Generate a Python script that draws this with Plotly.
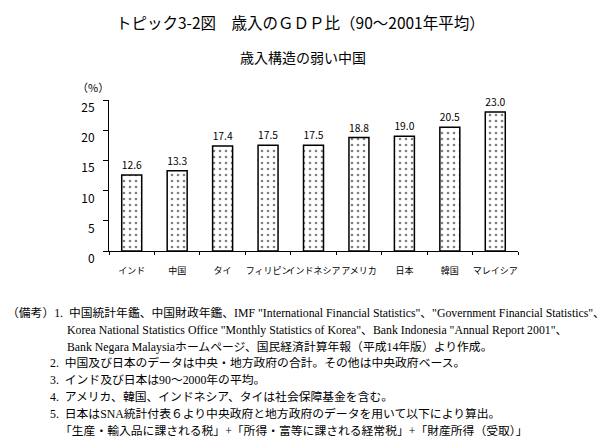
import plotly.graph_objects as go

categories = ["インド", "中国", "タイ", "フィリピン", "インドネシア", "アメリカ", "日本", "韓国", "マレイシア"]
values = [12.6, 13.3, 17.4, 17.5, 17.5, 18.8, 19.0, 20.5, 23.0]
value_labels = ["12.6", "13.3", "17.4", "17.5", "17.5", "18.8", "19.0", "20.5", "23.0"]
y_ticks = [0, 5, 10, 15, 20, 25]
y_tick_labels = ["0", "5", "10", "15", "20", "25"]

title = "トピック3-2図　歳入のＧＤＰ比（90～2001年平均）"
subtitle = "歳入構造の弱い中国"
notes = [
    (5, "（備考）1.  中国統計年鑑、中国財政年鑑、IMF \"International Financial Statistics\"、\"Government Financial Statistics\"、"),
    (65, "Korea National Statistics Office \"Monthly Statistics of Korea\"、Bank Indonesia \"Annual Report 2001\"、"),
    (65, "Bank Negara Malaysiaホームページ、国民経済計算年報（平成14年版）より作成。"),
    (48, "2.  中国及び日本のデータは中央・地方政府の合計。その他は中央政府ベース。"),
    (48, "3.  インド及び日本は90～2000年の平均。"),
    (48, "4.  アメリカ、韓国、インドネシア、タイは社会保障基金を含む。"),
    (48, "5.  日本はSNA統計付表６より中央政府と地方政府のデータを用いて以下により算出。"),
    (58, "「生産・輸入品に課される税」+「所得・富等に課される経常税」+「財産所得（受取）」"),
]

W, H = 615, 442
L, R, T, B = 109, 97, 100, 191
PW, PH = W - L - R, H - T - B


def px(x):
    return (x - L) / PW


def py(y):
    return (H - B - y) / PH


sans = "Noto Sans CJK JP, Noto Sans, sans-serif"
serif = "Liberation Serif, Noto Sans CJK JP, serif"

fig = go.Figure()
fig.add_trace(go.Bar(
    x=categories, y=values, width=0.44,
    text=value_labels, textposition="outside", cliponaxis=False,
    textfont=dict(family=sans, size=11, color="black"),
    marker=dict(color="white", line=dict(color="black", width=1.5),
                pattern=dict(shape=".", fgcolor="black", bgcolor="white", size=6, solidity=0.15)),
))

annotations = [
    dict(text=title, x=px(300), y=py(22), xref="paper", yref="paper", showarrow=False,
         xanchor="center", yanchor="middle", font=dict(family=sans, size=15.5, color="black")),
    dict(text=subtitle, x=px(303), y=py(57), xref="paper", yref="paper", showarrow=False,
         xanchor="center", yanchor="middle", font=dict(family=sans, size=14, color="black")),
    dict(text="（%）", x=px(93), y=py(87), xref="paper", yref="paper", showarrow=False,
         xanchor="center", yanchor="middle", font=dict(family=sans, size=11, color="black")),
]
y0 = 313
for i, (xpos, line) in enumerate(notes):
    annotations.append(dict(text=line, x=px(xpos), y=py(y0 + i * 16.8), xref="paper", yref="paper",
                            showarrow=False, xanchor="left", yanchor="middle",
                            font=dict(family=serif, size=11.8, color="black")))

fig.update_layout(
    width=W, height=H,
    margin=dict(l=L, r=R, t=T, b=B, autoexpand=False),
    paper_bgcolor="white", plot_bgcolor="white",
    showlegend=False,
    annotations=annotations,
    xaxis=dict(showline=True, linecolor="black", linewidth=1, ticks="outside", tickson="boundaries",
               ticklen=3, tickcolor="black", showgrid=False, tickangle=0,
               tickfont=dict(family=sans, size=9, color="black"), ticklabelstandoff=11),
    yaxis=dict(range=[0, 25], tickvals=y_ticks, ticktext=["<br>" + t for t in y_tick_labels],
               showline=True, linecolor="black", linewidth=1,
               ticks="outside", ticklen=5, tickcolor="black", showgrid=False, zeroline=False,
               tickfont=dict(family=sans, size=12, color="black"), ticklabelstandoff=6),
)

fig.write_html("out.html")
